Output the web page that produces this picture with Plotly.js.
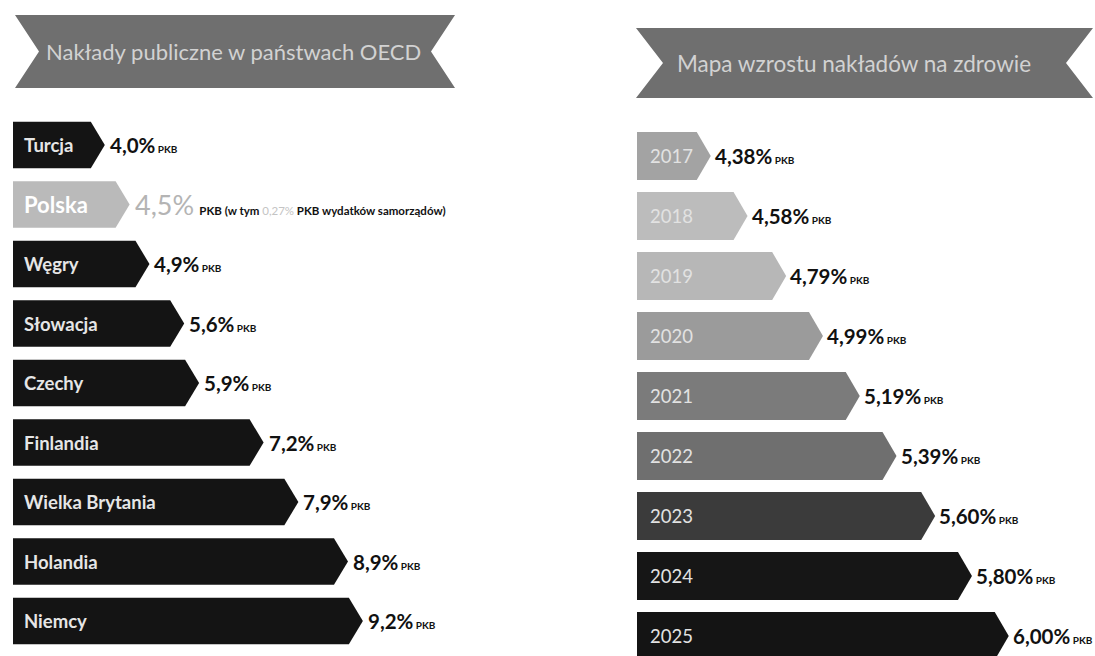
<!DOCTYPE html>
<html><head><meta charset="utf-8">
<script src="https://cdn.plot.ly/plotly-3.0.1.min.js"></script>
<style>html,body{margin:0;padding:0;background:#fff}#chart{width:1095px;height:656px}</style>
</head><body><div id="chart"></div>
<script>
// ---- data ----
const countries = ['Turcja','Polska','Węgry','Słowacja','Czechy','Finlandia','Wielka Brytania','Holandia','Niemcy'];
const countryValues = [4.0, 4.5, 4.9, 5.6, 5.9, 7.2, 7.9, 8.9, 9.2];
const years = ['2017','2018','2019','2020','2021','2022','2023','2024','2025'];
const yearValues = [4.38, 4.58, 4.79, 4.99, 5.19, 5.39, 5.60, 5.80, 6.00];
const leftTitle = 'Nakłady publiczne w państwach OECD';
const rightTitle = 'Mapa wzrostu nakładów na zdrowie';
const unitLabel = 'PKB';
const highlight = 'Polska';
const polskaNote = ['PKB (w tym ', '0,27%', ' PKB wydatków samorządów)'];

// ---- styles ----
const W = 1095, H = 656;
const FONT = 'Lato, "Open Sans", sans-serif';
const leftColors = countries.map(c => c === highlight ? '#bababa' : '#141414');
const yearColors = ['#a3a3a3','#bcbcbc','#b7b7b7','#9b9b9b','#7b7b7b','#6f6f6f','#3b3b3b','#161616','#141414'];
const L = {dom: [13, 545], range: [2.15, 12.87], yrange: [8.588, -2.437], half: 0.39};
const R = {dom: [637, 1095], range: [3.979, 6.469], yrange: [8.333, -2.6], half: 0.40};
const tipPx = 14;

function tipUnits(ax) { return tipPx * (ax.range[1] - ax.range[0]) / (ax.dom[1] - ax.dom[0]); }
function fmt(v, d) { return v.toFixed(d).replace('.', ','); }
function valueText(v, d) {
  return '<b>' + fmt(v, d) + '%</b><b><span style="font-size:10px"> ' + unitLabel + '</span></b>';
}

const traces = [];
function arrow(v, i, ax, xa, ya, color) {
  const t = tipUnits(ax), h = ax.half, x0 = ax.range[0];
  traces.push({
    type: 'scatter', mode: 'lines', xaxis: xa, yaxis: ya,
    x: [x0, v - t, v, v - t, x0, x0],
    y: [i - h, i - h, i, i + h, i + h, i - h],
    fill: 'toself', fillcolor: color, line: {width: 0, color: color},
    hoverinfo: 'skip', showlegend: false
  });
}
countryValues.forEach((v, i) => arrow(v, i, L, 'x', 'y', leftColors[i]));
yearValues.forEach((v, i) => arrow(v, i, R, 'x2', 'y2', yearColors[i]));

const annotations = [];
// left labels
countries.forEach((c, i) => {
  const isH = c === highlight;
  annotations.push({
    xref: 'x domain', yref: 'y', x: 0, y: i, xshift: 9, xanchor: 'left', yanchor: 'middle',
    text: '<b>' + c + '</b>', showarrow: false,
    font: {family: FONT, size: isH ? 22 : 18.5, color: isH ? '#ffffff' : '#e6e6e6'}
  });
  let txt;
  if (isH) {
    txt = '<span style="font-size:27px;color:#b4b4b4">' + fmt(countryValues[i], 1) + '%</span>' +
      ' <b><span style="font-size:11.5px;color:#111">' + polskaNote[0] + '</span></b>' +
      '<span style="font-size:11.5px;color:#c4c4c4">' + polskaNote[1] + '</span>' +
      '<b><span style="font-size:11.5px;color:#111">' + polskaNote[2] + '</span></b>';
  } else {
    txt = valueText(countryValues[i], 1);
  }
  annotations.push({
    xref: 'x', yref: 'y', x: countryValues[i], y: i, xshift: 3, xanchor: 'left', yanchor: 'middle',
    text: txt, showarrow: false, font: {family: FONT, size: 20.5, color: '#111'}
  });
});
// right labels
years.forEach((yr, i) => {
  annotations.push({
    xref: 'x2 domain', yref: 'y2', x: 0, y: i, xshift: 11, xanchor: 'left', yanchor: 'middle',
    text: yr, showarrow: false, font: {family: FONT, size: 18.5, color: '#e2e2e2'}
  });
  annotations.push({
    xref: 'x2', yref: 'y2', x: yearValues[i], y: i, xshift: 2, xanchor: 'left', yanchor: 'middle',
    text: valueText(yearValues[i], 2),
    showarrow: false, font: {family: FONT, size: 20.5, color: '#111'}
  });
});

// ribbons
function px(x) { return (x / W).toFixed(5); }
function py(y) { return (1 - y / H).toFixed(5); }
function ribbon(x0, x1, y0, y1, notch) {
  const ym = (y0 + y1) / 2;
  return 'M' + px(x0) + ',' + py(y0) + ' L' + px(x1) + ',' + py(y0) + ' L' + px(x1 - notch) + ',' + py(ym) +
    ' L' + px(x1) + ',' + py(y1) + ' L' + px(x0) + ',' + py(y1) + ' L' + px(x0 + notch) + ',' + py(ym) + ' Z';
}
const shapes = [
  {type: 'path', xref: 'paper', yref: 'paper', path: ribbon(15, 455, 15, 88, 24), fillcolor: '#6f6f6f', line: {width: 0}},
  {type: 'path', xref: 'paper', yref: 'paper', path: ribbon(636, 1093, 28, 98, 27), fillcolor: '#6f6f6f', line: {width: 0}}
];
annotations.push({xref: 'paper', yref: 'paper', x: 233 / W, y: 1 - 52 / H, xanchor: 'center', yanchor: 'middle',
  text: leftTitle, showarrow: false, font: {family: FONT, size: 22, color: '#d2d2d2'}});
annotations.push({xref: 'paper', yref: 'paper', x: 854 / W, y: 1 - 64 / H, xanchor: 'center', yanchor: 'middle',
  text: rightTitle, showarrow: false, font: {family: FONT, size: 22.5, color: '#d2d2d2'}});

const hidden = {showgrid: false, zeroline: false, showticklabels: false, ticks: '', showline: false, fixedrange: true};
const layout = {
  width: W, height: H, margin: {l: 0, r: 0, t: 0, b: 0},
  paper_bgcolor: '#ffffff', plot_bgcolor: 'rgba(0,0,0,0)', showlegend: false,
  xaxis: Object.assign({domain: [L.dom[0] / W, L.dom[1] / W], range: L.range}, hidden),
  yaxis: Object.assign({domain: [0, 1], range: L.yrange}, hidden),
  xaxis2: Object.assign({domain: [R.dom[0] / W, 1], range: R.range, anchor: 'y2'}, hidden),
  yaxis2: Object.assign({domain: [0, 1], range: R.yrange, anchor: 'x2'}, hidden),
  shapes: shapes, annotations: annotations
};
Plotly.newPlot('chart', traces, layout, {displayModeBar: false, staticPlot: true});
</script></body></html>
